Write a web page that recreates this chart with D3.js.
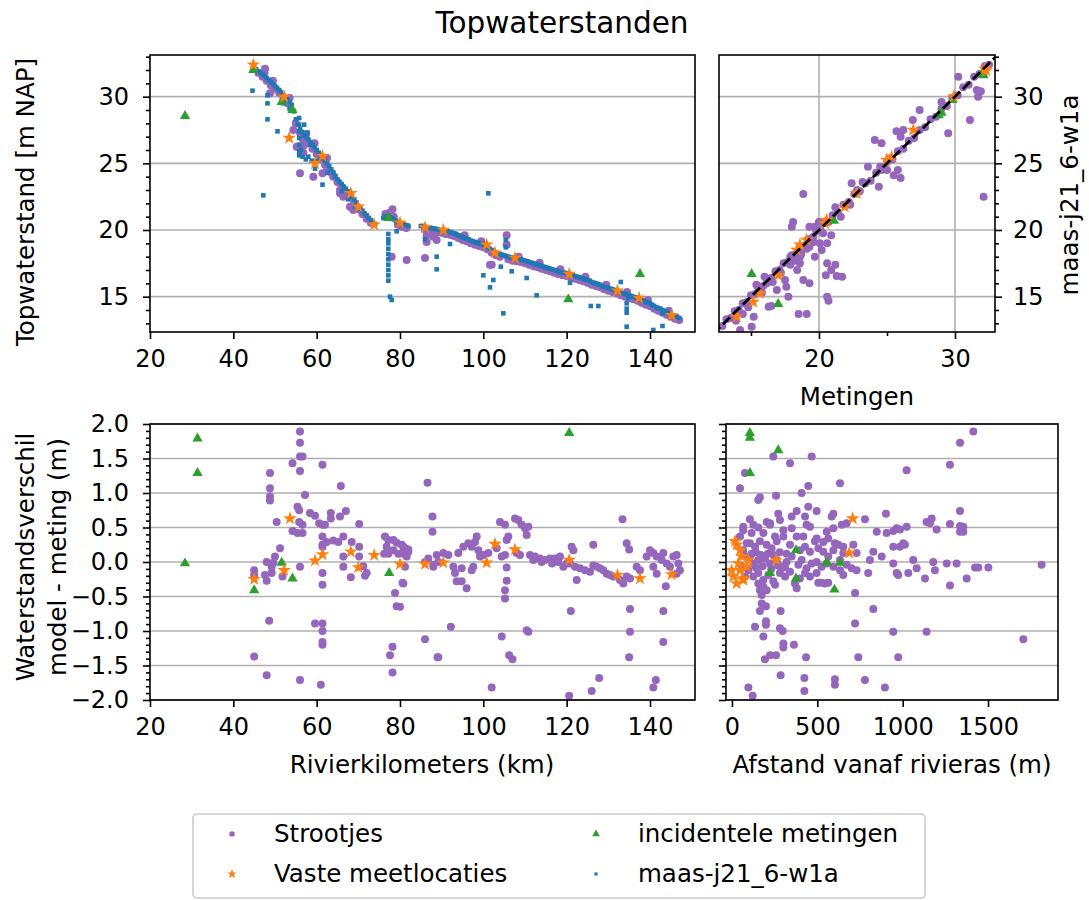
<!DOCTYPE html>
<html><head><meta charset="utf-8">
<script src="https://cdn.jsdelivr.net/npm/d3@7"></script>
<style>
body{margin:0;background:#fff;}
svg{font-family:"DejaVu Sans",sans-serif;}
</style></head><body>
<svg id="c" width="1089" height="900"></svg>
<script>
// ---------------- DATA ----------------
const titleText = "Topwaterstanden";
const legendLabels = ["Strootjes","Vaste meetlocaties","incidentele metingen","maas-j21_6-w1a"];
const kmTicks = [20,40,60,80,100,120,140];
const levelTicks = [15,20,25,30];
const metTicks = [20,30];
const metMinorTicks = [15,25];
const diffTicks = [-2,-1.5,-1,-0.5,0,0.5,1,1.5,2];
const distTicks = [0,500,1000,1500];

// Top-left: river km vs water level
const tlStroot = [[46,31.8],[47,31.5],[48,31.2],[49,30.85],[50,30.6],[51,30.3],[52,29.85],[53,29.5],[55,28.0],[56,27.3],[57,26.8],[58,26.5],[59,26.1],[60,25.7],[61,25.3],[62,24.9],[63,24.5],[64,24.0],[65,23.6],[66,23.2],[67,22.85],[68,22.5],[69,22.05],[70,21.55],[71,21.2],[72,20.85],[73,20.55],[76.5,21.2],[77.5,21.3],[78.5,21.0],[79.5,20.4],[80.5,20.25],[81.5,20.15],[86,20.05],[87,20.0],[88,19.9],[89,19.85],[90,19.8],[91,19.7],[92,19.65],[93,19.55],[94,19.4],[95,19.25],[96,19.15],[97,19.0],[98,18.9],[99,18.8],[100,18.7],[101,18.55],[102,18.3],[103,18.1],[104,18.0],[106,17.8],[107,17.7],[108,17.65],[109,17.6],[110,17.5],[111,17.4],[112,17.3],[113,17.2],[114,17.1],[115,17.0],[116,16.9],[117,16.8],[118,16.7],[119,16.6],[120,16.55],[121,16.45],[122,16.35],[123,16.25],[124,16.15],[125,16.05],[126,15.9],[127,15.8],[128,15.7],[129,15.55],[130,15.45],[131,15.35],[132,15.25],[133,15.1],[134,15.0],[135,14.9],[136,14.8],[137,14.7],[138,14.55],[139,14.4],[140,14.3],[141,14.1],[142,13.95],[143,13.8],[144,13.65],[145,13.5],[146,13.35],[147,13.25],
[47.5,31.8],[49.5,31.2],[53.5,29.9],[57.5,27.2],[59.5,26.5],[62.5,25.4],[95.5,19.6],[99.5,19.15],[108.5,18.0],[113.5,17.55],[118.5,17.05],[124.5,16.5],[129.5,15.9],[134.5,15.35],[139.5,14.75],[144.5,13.95],
[47.6,32.1],[48.8,30.25],[54.4,27.5],[56.8,26.75],[56.8,26.3],[56.8,25.8],[55.2,26.25],[56.0,24.25],[59.2,24.0],[61.4,24.25],[62.4,24.4],[63.6,24.25],[65.6,23.0],[65.6,22.75],[66.4,22.5],[68,21.75],[68.8,21.5],[78.2,21.55],[78.4,21.0],[80.8,20.3],[81.6,20.25],[78.0,18.0],[81.6,17.75],[86.0,17.9],[86.4,19.6],[86.4,19.1],[88.0,19.5],[88.8,19.25],[102.0,17.4],[101.6,17.4],[105.6,19.6],[105.6,18.9]];
const tlModel = [[45,32.2],[45.5,32.05],[46,31.9],[46.5,31.8],[47,31.7],[47.5,31.55],[48,31.4],[48.5,31.25],[49,31.1],[49.5,30.95],[50,30.8],[50.5,30.65],[51,30.5],[51.5,30.3],[52,30.1],[52.5,29.95],[53,29.8],[53.5,29.6],[54,29.4],[54.5,28.9],[55,28.3],[55.5,27.9],[56,27.6],[56.5,27.35],[57,27.1],[57.5,26.95],[58,26.8],[58.5,26.6],[59,26.4],[59.5,26.2],[60,26.0],[60.5,25.8],[61,25.6],[61.5,25.4],[62,25.2],[62.5,25.0],[63,24.8],[63.5,24.55],[64,24.3],[64.5,24.05],[65,23.8],[65.5,23.6],[66,23.45],[66.5,23.25],[67,23.1],[67.5,22.9],[68,22.75],[68.5,22.5],[69,22.3],[69.5,22.05],[70,21.8],[70.5,21.6],[71,21.45],[71.5,21.25],[72,21.1],[72.5,20.9],[73,20.75],[73.5,20.6],[74,20.45],[76,20.9],[76.5,21.0],[77,21.05],[77.5,21.0],[78,20.9],[78.5,20.8],[79,20.7],[79.5,20.6],[80,20.5],[80.5,20.45],[81,20.4],[81.5,20.35],[82,20.3],[85,20.3],[85.5,20.3],[86,20.25],[86.5,20.2],[87,20.2],[87.5,20.15],[88,20.1],[88.5,20.1],[89,20.05],[89.5,20.0],[90,20.0],[90.5,19.95],[91,19.9],[91.5,19.9],[92,19.85],[92.5,19.8],[93,19.75],[93.5,19.7],[94,19.6],[94.5,19.55],[95,19.45],[95.5,19.4],[96,19.35],[96.5,19.3],[97,19.2],[97.5,19.15],[98,19.1],[98.5,19.05],[99,19.0],[99.5,18.95],[100,18.9],[100.5,18.8],[101,18.75],[101.5,18.6],[102,18.5],[102.5,18.4],[103,18.3],[103.5,18.25],[104,18.2],[104.5,18.15],[105,18.1],[105.5,18.05],[106,18.0],[106.5,17.95],[107,17.9],[107.5,17.9],[108,17.85],[108.5,17.8],[109,17.8],[109.5,17.75],[110,17.7],[110.5,17.65],[111,17.6],[111.5,17.55],[112,17.5],[112.5,17.45],[113,17.4],[113.5,17.35],[114,17.3],[114.5,17.25],[115,17.2],[115.5,17.15],[116,17.1],[116.5,17.05],[117,17.0],[117.5,16.95],[118,16.9],[118.5,16.85],[119,16.8],[119.5,16.8],[120,16.75],[120.5,16.7],[121,16.65],[121.5,16.6],[122,16.55],[122.5,16.5],[123,16.45],[123.5,16.4],[124,16.35],[124.5,16.3],[125,16.25],[125.5,16.2],[126,16.1],[126.5,16.05],[127,16.0],[127.5,15.95],[128,15.9],[128.5,15.8],[129,15.75],[129.5,15.7],[130,15.65],[130.5,15.6],[131,15.55],[131.5,15.5],[132,15.45],[132.5,15.4],[133,15.3],[133.5,15.25],[134,15.2],[134.5,15.15],[135,15.1],[135.5,15.05],[136,15.0],[136.5,14.95],[137,14.9],[137.5,14.8],[138,14.75],[138.5,14.7],[139,14.6],[139.5,14.55],[140,14.5],[140.5,14.4],[141,14.3],[141.5,14.2],[142,14.15],[142.5,14.1],[143,14.0],[143.5,13.9],[144,13.85],[144.5,13.75],[145,13.7],[145.5,13.6],[146,13.55],[146.5,13.5],[147,13.4],
[55.8,27.9],[55.8,27.4],[55.8,26.9],[55.8,26.4],[55.8,25.9],[55.8,25.6],[56.2,26.0],[56.6,25.5],[57.4,25.3],[58,25.5],[58.8,25.2],[59.6,24.6],[57,27.9],[57.8,27.3],[58.4,26.4],[60.2,25.2],[62.6,24.3],[64.4,24.0],[66,22.9],[67.6,22.3],[69.2,21.7],[52,29.5],[53.5,29.1],
[44.6,30.45],[48.2,30.1],[48.2,29.5],[48.2,28.3],[50.6,27.4],[47.2,22.6],[55.8,28.4],[61.4,23.4],[77.2,19.7],[77.2,19.3],[77.2,19.0],[77.2,18.6],[77.2,18.2],[77.2,17.8],[77.2,17.4],[77.2,17.0],[77.2,16.6],[77.2,16.2],[77.6,15.0],[78.0,14.75],[79.2,19.9],[86.0,19.3],[88.8,18.0],[88.8,17.05],[92.0,18.95],[101.2,22.75],[100.0,16.6],[102.4,16.25],[101.6,15.7],[104.2,17.25],[104.8,13.75],[105.4,19.25],[105.4,18.7],[106.8,16.9],[110.4,16.4],[112.8,15.1],[120.8,16.05],[125.8,14.3],[127.6,14.3],[133.0,16.1],[134.4,14.5],[134.4,14.1],[134.4,13.8],[134.4,12.75],[140.8,12.5],[143.0,12.8],[143.0,13.75],[134.8,14.9]];
const tlIncid = [[28.4,28.55],[44.8,32.0],[51.6,29.6],[54.2,29.0],[77.2,20.9],[137.6,16.7],[120.4,14.8]];
const tlVast = [[44.8,32.4],[52.2,30.0],[53.4,26.9],[61.4,25.55],[59.6,25.0],[68.2,22.75],[70.0,21.75],[73.8,20.4],[80.0,20.55],[86.0,20.2],[90.4,20.0],[100.8,18.9],[102.8,18.3],[107.6,17.9],[120.6,16.7],[132.2,15.45],[137.4,14.9],[145.2,13.6]];

// Top-right: measured vs model
const trStroot = [[12.9,12.8],[13.2,13.3],[13.5,13.4],[13.8,13.9],[14.1,14.0],[14.4,14.5],[14.7,14.6],[15.0,15.1],[15.3,15.2],[15.6,15.7],[15.9,15.8],[16.2,16.3],[16.5,16.4],[16.8,16.9],[17.1,17.0],[17.4,17.5],[17.7,17.6],[18.0,18.1],[18.3,18.2],[18.6,18.7],[18.9,18.8],[19.2,19.3],[19.5,19.4],[19.8,19.9],[20.1,20.0],[20.4,20.5],[20.7,20.6],[21.0,21.1],[21.4,21.3],[21.8,21.9],[22.2,22.1],[22.6,22.7],[23.0,22.9],[23.4,23.5],[23.8,23.7],[24.2,24.3],[24.6,24.5],[25.0,25.1],[25.4,25.3],[25.8,25.9],[26.2,26.1],[26.6,26.7],[27.0,26.9],[27.4,27.5],[27.8,27.7],[28.2,28.3],[28.6,28.5],[29.0,29.1],[29.4,29.3],[29.8,29.9],[30.2,30.1],[30.6,30.7],[31.0,30.9],[31.4,31.5],[31.8,31.7],[32.2,32.3],[32.5,32.4],
[17.9,17.4],[18.2,17.7],[18.7,18.2],[19.1,18.6],[19.6,19.1],[17.2,16.8],[16.6,16.1],[15.8,15.3],[14.8,14.2],[14.4,13.7],[13.9,13.2],[21.6,21.0],[22.3,21.9],[23.2,23.6],[21.2,21.7],[20.0,20.6],[16.0,16.5],[15.4,15.9],
[30.24,31.5],[31.6,30.5],[31.7,30.0],[31.9,30.4],[31.1,28.25],[29.5,27.25],[32.1,22.5],[27.4,29.0],[26.9,28.25],[29.0,29.6],[25.7,27.4],[26.2,27.5],[26.0,27.0],[24.1,26.75],[24.6,26.5],[23.6,24.75],[24.5,24.75],[25.0,24.5],[25.8,24.5],[26.0,23.9],[25.5,24.1],[24.4,23.25],[22.4,23.5],[22.8,23.0],[18.85,22.7],[18.1,20.6],[18.0,20.25],[19.3,20.25],[19.7,20.25],[20.3,19.75],[20.9,19.6],[20.6,19.0],[20.2,18.5],[19.3,18.75],[19.7,18.0],[18.6,17.5],[18.4,17.0],[18.85,16.25],[19.3,16.0],[20.6,17.5],[21.2,17.4],[20.9,17.0],[20.5,16.6],[21.3,16.55],[21.7,16.5],[20.6,15.0],[20.7,14.7],[17.5,16.25],[17.6,15.75],[17.75,15.0],[16.3,14.25],[16.5,14.3],[18.5,13.7],[19.1,13.7],[15.05,12.75],[14.2,12.5],[15.2,13.5],[16.15,16.0],[16.9,15.5],[15.5,15.75],[19.58,19.5],[20.07,19.0],[18.6,18.0],[17.9,18.0]];
const trIncid = [[15.05,16.7],[17.0,14.45],[21.1,20.7],[28.8,28.6],[29.0,28.8],[29.8,29.75],[32.1,31.6],[32.0,31.8]];
const trVast = [[13.95,13.5],[15.17,14.6],[15.66,15.25],[17.0,16.6],[18.36,18.5],[18.6,18.9],[19.09,19.25],[20.44,20.5],[20.56,20.75],[21.9,21.75],[22.77,22.75],[24.97,25.25],[25.34,25.5],[26.93,27.5],[29.9,30.0],[32.2,32.1],[32.3,31.95]];
const identity = [[10,10],[35,35]];

// Bottom-left: river km vs difference
const blStroot = [[56.0,1.89],[56.0,1.73],[56.0,1.53],[56.6,1.53],[54.2,1.43],[56.0,1.32],[61.4,1.41],[48.8,1.29],[48.8,1.07],[48.8,0.95],[48.8,0.89],[65.8,1.10],[57.2,0.97],[55.4,0.80],[55.8,0.75],[50.4,0.58],[58.4,0.71],[59.6,0.67],[60.6,0.56],[61.4,0.54],[62.0,0.54],[63.4,0.71],[63.4,0.63],[65.6,0.66],[67.0,0.74],[55.8,0.58],[56.6,0.54],[54.2,0.45],[55.4,0.42],[56.6,0.42],[70.2,0.55],[61.4,0.37],[61.4,0.25],[61.4,0.22],[62.4,0.29],[64.0,0.31],[65.2,0.29],[66.4,0.37],[68.4,0.29],[70.2,0.22],[76.4,0.37],[77.2,0.32],[78.4,0.32],[79.2,0.28],[80.4,0.25],[81.2,0.20],[82.0,0.18],[76.8,0.22],[78.4,0.17],[79.6,0.12],[80.8,0.14],[81.6,0.08],[51.2,0.20],[50.0,0.08],[49.6,-0.01],[48.0,0.0],[49.2,-0.07],[47.6,-0.19],[48.0,-0.27],[49.2,-0.16],[45.0,-0.12],[45.0,-0.19],[51.8,-0.21],[56.0,-0.07],[61.4,-0.16],[61.4,-0.33],[66.4,0.08],[66.4,-0.07],[68.2,-0.22],[70.2,0.08],[71.2,-0.06],[72.0,-0.16],[71.6,-0.20],[77.2,0.12],[76.2,0.12],[80.6,-0.30],[78.8,-0.45],[79.2,-0.64],[81.2,-0.07],[86.0,0.0],[86.8,0.05],[88.0,-0.07],[89.2,0.0],[86.6,1.15],[87.8,0.66],[87.8,0.44],[48.6,-0.85],[59.6,-0.89],[61.4,-0.89],[61.4,-1.0],[61.4,-1.16],[61.4,-1.20],[45.0,-1.37],[48.0,-1.64],[56.0,-1.71],[61.0,-1.78],[78.2,-1.23],[77.6,-1.35],[78.2,-1.60],[86.0,-1.12],[89.0,-1.38],
[80.8,0.22],[81.6,0.17],[80.8,0.12],[82,0.15],[80.8,-0.31],[80.0,-0.65],[88.0,-0.04],[88.8,0.10],[90.4,0.13],[91.6,0.10],[92.8,-0.07],[93.2,-0.16],[94.0,0.13],[94.8,-0.09],[93.6,-0.28],[94.8,-0.28],[96.0,-0.38],[95.2,0.22],[96.4,0.27],[97.2,0.22],[98.4,0.37],[98.0,0.29],[98.8,0.17],[99.2,0.08],[97.2,-0.12],[97.6,-0.07],[100.0,0.10],[101.2,0.13],[92.2,-0.94],[89.2,-1.38],[102.0,-1.82],[104.0,0.58],[105.2,0.54],[103.2,0.20],[104.4,0.08],[105.2,0.10],[105.6,0.32],[106.0,0.37],[105.6,-0.08],[105.6,-0.27],[105.2,-0.41],[105.2,-0.53],[104.4,-1.08],[106.2,-1.35],[107.0,-1.41],[107.6,0.63],[108.4,0.61],[109.2,0.54],[110.0,0.49],[110.4,0.39],[110.8,0.51],[108.0,0.13],[108.8,0.10],[110.4,-0.99],[110.8,-1.01],[111.2,0.10],[112.4,0.08],[113.6,0.05],[114.8,0.03],[116.0,0.05],[117.2,0.05],[118.4,0.08],[119.2,-0.07],[120.0,-0.02],[112,0.03],[114,0.0],[116.5,-0.02],[118,0.0],[121.2,0.22],[121.6,0.17],[120.8,-0.02],[122.0,-0.07],[122.4,-0.26],[123.2,-0.09],[124.4,-0.12],[125.6,-0.14],[126.4,-0.05],[127.2,-0.07],[128.0,-0.09],[128.8,-0.12],[129.6,-0.17],[130.4,-0.19],[131.2,-0.21],[132.8,-0.26],[133.6,-0.31],[134.4,-0.21],[135.2,-0.24],[126.4,0.25],[133.4,0.62],[134.4,0.27],[135.0,0.18],[121.0,-0.71],[135.2,-0.68],[135.2,-1.01],[135.0,-1.38],[127.8,-1.68],[126.0,-1.87],[120.6,-1.94],[139.2,0.08],[140.0,0.17],[140.8,0.13],[141.6,0.08],[143.2,0.13],[142.8,0.03],[144.0,-0.02],[144.8,-0.07],[145.6,0.08],[146.4,0.10],[146.8,-0.02],[147.2,-0.12],[146.4,-0.17],[140.8,-0.07],[141.6,-0.17],[137.6,-0.12],[136.8,-0.07],[143.8,-0.35],[143.2,-0.71],[143.2,-1.16],[141.4,-1.71],[140.8,-1.82]];
const blIncid = [[31.4,1.79],[31.4,1.29],[28.4,-0.02],[45.0,-0.41],[51.6,-0.01],[54.2,-0.24],[77.4,-0.16],[120.6,1.87]];
const blVast = [[45.0,-0.25],[53.6,0.63],[52.2,-0.12],[59.6,0.02],[61.4,0.11],[68.2,0.15],[70.0,-0.08],[73.8,0.10],[80.0,-0.03],[86.0,-0.03],[90.4,-0.01],[100.8,-0.01],[102.8,0.26],[107.6,0.18],[120.6,0.03],[132.2,-0.19],[137.6,-0.24],[145.2,-0.18]];

// Bottom-right: distance from river axis vs difference
const brStroot = [[1414,1.89],[1336,1.73],[1277,1.41],[1023,1.33],[242,1.53],[340,1.43],[467,1.53],[76,1.29],[47,1.07],[154,0.90],[164,0.94],[258,0.96],[408,1.0],[447,1.10],[633,1.14],[271,0.70],[350,0.66],[379,0.74],[428,0.66],[447,0.80],[496,0.74],[594,0.70],[584,0.66],[779,0.62],[902,0.70],[105,0.62],[66,0.51],[125,0.54],[154,0.50],[203,0.58],[223,0.54],[437,0.54],[457,0.51],[555,0.44],[594,0.49],[643,0.54],[672,0.56],[496,0.34],[535,0.29],[564,0.34],[848,0.44],[906,0.42],[945,0.45],[965,0.49],[984,0.47],[1023,0.51],[1140,0.58],[1170,0.63],[1160,0.56],[1199,0.47],[1277,0.55],[1336,0.52],[1355,0.51],[1336,0.44],[1355,0.44],[1336,0.74],[945,0.22],[984,0.22],[1004,0.27],[1013,0.25],[828,0.15],[877,0.08],[808,0.03],[730,0.13],[711,0.25],[652,0.22],[730,-0.12],[798,-0.16],[721,-0.45],[828,-0.68],[945,-0.02],[965,-0.16],[974,-0.19],[1033,-0.16],[1062,0.03],[1082,-0.09],[1131,-0.24],[1179,0.0],[1189,-0.12],[1258,-0.02],[1316,-0.02],[1277,-0.34],[1375,-0.24],[1424,-0.08],[1443,-0.08],[1502,-0.08],[1814,-0.04],[945,-1.01],[1140,-1.01],[1707,-1.12],[974,-1.38],[740,-1.38],[434,-1.38],[896,-1.82],[779,-1.71],[603,-1.70],[603,-1.78],[424,-1.68],[424,-1.87],[285,-1.64],[96,-1.82],[121,-1.94],[193,-1.41],[223,-1.35],[258,-1.35],[301,-1.18],[301,-1.24],[363,-1.20],[184,-1.08],[135,-0.94],[199,-0.86],[199,-0.91],[281,-0.96],[297,-1.0],[285,-0.71],[164,-0.71],[174,-0.60],[199,-0.64],[164,-0.41],[174,-0.48],[721,-0.89],
[105,0.27],[135,0.22],[164,0.30],[203,0.25],[232,0.20],[262,0.30],[301,0.37],[340,0.25],[379,0.37],[398,0.17],[428,0.22],[457,0.15],[486,0.30],[506,0.20],[535,0.15],[564,0.08],[594,0.17],[603,0.27],[623,0.25],[652,0.13],
[86,0.08],[125,-0.02],[154,0.03],[193,0.05],[223,-0.02],[262,0.03],[291,-0.07],[320,0.0],[350,0.08],[389,-0.04],[408,0.03],[437,-0.09],[467,-0.02],[496,0.0],[525,-0.07],[555,-0.02],[594,-0.07],[633,0.03],[672,-0.04],[701,-0.09],
[96,-0.12],[125,-0.21],[154,-0.16],[184,-0.26],[213,-0.19],[242,-0.28],[281,-0.16],[311,-0.21],[340,-0.14],[369,-0.31],[398,-0.24],[428,-0.16],[457,-0.21],[496,-0.16],[525,-0.30],[564,-0.30],[652,-0.19],[633,-0.12],
[66,0.46],[115,0.42],[184,0.42],[223,0.56],[281,0.61],[301,0.46],[350,0.49],[418,0.37],[252,0.37],[66,0.17],[86,0.27],[105,0.08],[57,-0.07],[76,-0.21],[47,0.37],[154,-0.31],[184,-0.36],[203,-0.41],[252,-0.33],[379,-0.38],[506,-0.30],[545,-0.31],[115,0.12],[140,0.14],[170,0.10],[210,0.12],[245,0.10],[280,0.14],[320,0.12],[140,-0.08],[180,-0.06],[230,-0.10],[270,-0.05],[310,-0.08]];
const brIncid = [[105,1.87],[105,1.80],[271,1.62],[105,1.29],[375,0.17],[555,-0.01],[633,-0.01],[223,-0.16],[375,-0.24],[600,-0.40]];
const brVast = [[27,0.25],[47,0.17],[57,0.08],[37,-0.02],[8,-0.21],[66,-0.24],[96,0.03],[47,-0.12],[-2,-0.12],[18,0.30],[66,-0.26],[27,-0.31],[86,-0.07],[258,0.03],[687,0.13],[707,0.63]];

// ---------------- DRAW ----------------
const C = {purple:"#9467bd", orange:"#ff7f0e", green:"#2ca02c", blue:"#1f77b4"};
const svg = d3.select("#c");
svg.append("rect").attr("width",1089).attr("height",900).attr("fill","#fff");
const defs = svg.append("defs");
const FS = 24;

const xKm = d3.scaleLinear().domain([20,150.8]).range([150,695]);
const yLvl = d3.scaleLinear().domain([12.35,33.125]).range([332,55]);
const xMet = d3.scaleLinear().domain([12.65,32.94]).range([719,995]);
const yDif = d3.scaleLinear().domain([-2,2]).range([700,424]);
const xDst = d3.scaleLinear().domain([-35,1910]).range([726,1058]);

const sym = {
  circle: d3.symbol().type(d3.symbolCircle).size(Math.PI*4*4)(),
  star: d3.symbol().type(d3.symbolStar).size(58)(),
  tri: d3.symbol().type(d3.symbolTriangle).size(46)(),
  square: d3.symbol().type(d3.symbolSquare).size(21)()
};

function panel(id, x, y){
  const [x0,x1] = x.range(); const [y1,y0] = y.range();
  defs.append("clipPath").attr("id","clip-"+id).append("rect")
    .attr("x",x0).attr("y",y0).attr("width",x1-x0).attr("height",y1-y0);
  const g = svg.append("g");
  const grid = g.append("g");
  const marks = g.append("g").attr("clip-path",`url(#clip-${id})`);
  return {g, grid, marks, x, y, x0, x1, y0, y1};
}
function hgrid(p, vals){
  p.grid.selectAll(null).data(vals).join("line")
    .attr("x1",p.x0).attr("x2",p.x1).attr("y1",d=>p.y(d)).attr("y2",d=>p.y(d))
    .attr("stroke","#b0b0b0").attr("stroke-width",1.6);
}
function vgrid(p, vals){
  p.grid.selectAll(null).data(vals).join("line")
    .attr("y1",p.y0).attr("y2",p.y1).attr("x1",d=>p.x(d)).attr("x2",d=>p.x(d))
    .attr("stroke","#b0b0b0").attr("stroke-width",1.6);
}
function scatter(p, data, shape, color){
  p.marks.append("g").selectAll("path").data(data).join("path")
    .attr("d", sym[shape])
    .attr("transform", d=>`translate(${p.x(d[0])},${p.y(d[1])})`)
    .attr("fill", color);
}
function frame(p){
  p.g.append("rect").attr("x",p.x0).attr("y",p.y0).attr("width",p.x1-p.x0).attr("height",p.y1-p.y0)
    .attr("fill","none").attr("stroke","#000").attr("stroke-width",1.6);
}
function styleAxis(sel){
  sel.select(".domain").remove();
  sel.selectAll(".tick line").attr("stroke","#000").attr("stroke-width",1.6);
  sel.selectAll(".tick text").attr("fill","#000").attr("font-size",FS).attr("font-family","DejaVu Sans");
}
function addAxis(p, gen, tx, ty){
  const a = p.g.append("g").attr("transform",`translate(${tx},${ty})`).call(gen);
  styleAxis(a); return a;
}

// ---- Top-left
const tl = panel("tl", xKm, yLvl);
hgrid(tl, levelTicks);
scatter(tl, tlStroot, "circle", C.purple);
scatter(tl, tlModel, "square", C.blue);
scatter(tl, tlIncid, "tri", C.green);
scatter(tl, tlVast, "star", C.orange);
addAxis(tl, d3.axisBottom(xKm).tickValues(kmTicks).tickSize(7).tickPadding(11).tickFormat(d3.format("d")), 0, 332);
addAxis(tl, d3.axisLeft(yLvl).tickValues(d3.range(13,34).filter(v=>v%5)).tickSize(4).tickFormat(""), 150, 0);
addAxis(tl, d3.axisLeft(yLvl).tickValues(levelTicks).tickSize(7).tickPadding(14).tickFormat(d3.format("d")), 150, 0);
frame(tl);

// ---- Top-right
const tr = panel("tr", xMet, yLvl);
hgrid(tr, levelTicks); vgrid(tr, metTicks);
scatter(tr, trStroot, "circle", C.purple);
scatter(tr, trIncid, "tri", C.green);
scatter(tr, trVast, "star", C.orange);
tr.marks.append("path").datum(identity)
  .attr("d", d3.line().x(d=>xMet(d[0])).y(d=>yLvl(d[1])))
  .attr("stroke","#000").attr("stroke-width",2.8).attr("stroke-dasharray","10,4").attr("fill","none");
addAxis(tr, d3.axisBottom(xMet).tickValues(metTicks).tickSize(7).tickPadding(11).tickFormat(d3.format("d")), 0, 332);
addAxis(tr, d3.axisBottom(xMet).tickValues(metMinorTicks).tickSize(4).tickFormat(""), 0, 332);
addAxis(tr, d3.axisRight(yLvl).tickValues(d3.range(13,34).filter(v=>v%5)).tickSize(4).tickFormat(""), 995, 0);
addAxis(tr, d3.axisRight(yLvl).tickValues(levelTicks).tickSize(7).tickPadding(11).tickFormat(d3.format("d")), 995, 0);
frame(tr);

// ---- Bottom-left
const bl = panel("bl", xKm, yDif);
hgrid(bl, diffTicks);
scatter(bl, blStroot, "circle", C.purple);
scatter(bl, blIncid, "tri", C.green);
scatter(bl, blVast, "star", C.orange);
addAxis(bl, d3.axisBottom(xKm).tickValues(kmTicks).tickSize(7).tickPadding(11).tickFormat(d3.format("d")), 0, 700);
const minorDiff = d3.range(-20,21).filter(v=>v%5!==0).map(v=>v/10);
addAxis(bl, d3.axisLeft(yDif).tickValues(minorDiff).tickSize(4).tickFormat(""), 150, 0);
addAxis(bl, d3.axisLeft(yDif).tickValues(diffTicks).tickSize(7).tickPadding(14).tickFormat(d3.format(".1f")), 150, 0);
frame(bl);

// ---- Bottom-right
const br = panel("br", xDst, yDif);
hgrid(br, diffTicks);
scatter(br, brStroot, "circle", C.purple);
scatter(br, brIncid, "tri", C.green);
scatter(br, brVast, "star", C.orange);
addAxis(br, d3.axisBottom(xDst).tickValues(distTicks).tickSize(7).tickPadding(11).tickFormat(d3.format("d")), 0, 700);
addAxis(br, d3.axisLeft(yDif).tickValues(minorDiff).tickSize(4).tickFormat(""), 726, 0);
addAxis(br, d3.axisLeft(yDif).tickValues(diffTicks).tickSize(7).tickFormat(""), 726, 0);
frame(br);

// ---- Text labels
function txt(x,y,s,size,rot){
  const t = svg.append("text").attr("font-size",size).attr("fill","#000")
    .attr("text-anchor","middle").attr("font-family","DejaVu Sans").text(s);
  if(rot) t.attr("transform",`translate(${x},${y}) rotate(-90)`);
  else t.attr("x",x).attr("y",y);
  return t;
}
txt(562,33,titleText,29.5);
txt(34,202,"Topwaterstand [m NAP]",FS+0.5,true);
txt(34,557,"Waterstandsverschil",FS+0.5,true);
txt(66,557,"model - meting  (m)",FS+0.5,true);
txt(1078,195,"maas-j21_6-w1a",FS+0.5,true);
txt(857,405,"Metingen",FS+0.5);
txt(422,773,"Rivierkilometers (km)",FS+0.5);
txt(892,773,"Afstand vanaf rivieras (m)",FS+0.5);

// ---- Legend
const lg = svg.append("g");
lg.append("rect").attr("x",193).attr("y",814).attr("width",732).attr("height",84).attr("rx",4)
  .attr("fill","#fff").attr("stroke","#cccccc").attr("stroke-width",1.6);
const lsym = {
  circle: d3.symbol().type(d3.symbolCircle).size(Math.PI*2.8*2.8)(),
  star: d3.symbol().type(d3.symbolStar).size(30)(),
  tri: d3.symbol().type(d3.symbolTriangle).size(26)(),
  square: d3.symbol().type(d3.symbolSquare).size(10)()
};
const legendItems = [
  {label:legendLabels[0], shape:"circle", color:C.purple, x:232, y:834},
  {label:legendLabels[1], shape:"star", color:C.orange, x:232, y:874},
  {label:legendLabels[2], shape:"tri", color:C.green, x:596, y:834},
  {label:legendLabels[3], shape:"square", color:C.blue, x:596, y:874}
];
legendItems.forEach(it=>{
  lg.append("path").attr("d",lsym[it.shape]).attr("transform",`translate(${it.x},${it.y})`).attr("fill",it.color);
  lg.append("text").attr("x",it.x+42).attr("y",it.y+8).attr("font-size",FS+0.5).attr("fill","#000")
    .attr("font-family","DejaVu Sans").text(it.label);
});
</script>
</body></html>
